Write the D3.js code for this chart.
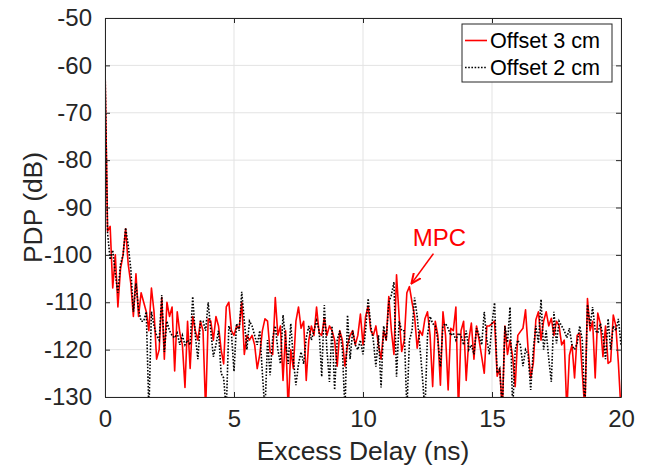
<!DOCTYPE html>
<html>
<head>
<meta charset="utf-8">
<script src="https://cdn.jsdelivr.net/npm/d3@7"></script>
<style>
  html, body { margin: 0; padding: 0; background: #fff; }
  svg { display: block; font-family: "Liberation Sans", Arial, Helvetica, sans-serif; }
</style>
</head>
<body>
<svg id="chart" width="645" height="467"></svg>
<script>
// ---------------- data ----------------
const delayStep = 0.1; // ns between samples
const xTicks = [0, 5, 10, 15, 20];
const yTicks = [-130, -120, -110, -100, -90, -80, -70, -60, -50];
const seriesNames = ["Offset 3 cm", "Offset 2 cm"];

// Offset 3 cm (red, solid), PDP in dB, samples every 0.1 ns from 0 to 20 ns
const pdpOffset3 = [
  -60, -95, -94, -107, -100, -111, -103, -100, -94.5, -102,
  -106, -113, -104, -113, -108, -110, -112, -116, -107, -112,
  -122, -120, -109, -122, -110, -113, -111, -124.5, -112, -116.5,
  -119, -128, -114, -124, -113, -116, -118, -114, -116, -133,
  -113.5, -114, -118, -113, -115, -120, -123, -111, -110, -116,
  -117, -115, -115.5, -110, -121, -117, -118, -117, -119, -124,
  -121, -116, -113.5, -114, -120.5, -121, -109, -117, -115, -126.5,
  -116, -133, -120, -124, -114, -111, -115.5, -114, -126.5, -118,
  -115, -117, -111, -116.5, -117, -113.3, -117, -115, -116, -118,
  -123.5, -116, -118, -123.5, -119, -117, -116, -119, -117, -112.5,
  -119, -113, -110.8, -116, -117, -115, -119, -122, -116, -118,
  -108.8, -116, -121, -104.2, -113, -120.4, -118, -108, -106.7, -110,
  -113, -119.7, -116, -117, -113.5, -112, -117, -127.8, -114, -117,
  -127.5, -112, -117, -128.5, -115.5, -116, -111, -133, -116, -114,
  -126.5, -118, -114.4, -122, -115, -118, -121.5, -125, -115, -115,
  -114.5, -114, -125.6, -124, -133, -115, -121, -118, -121.5, -127.8,
  -117, -116.2, -115.5, -111.6, -120, -126, -122.9, -113.7, -112, -118,
  -114, -112, -115, -113.4, -117, -114, -115, -119, -118, -133,
  -121.2, -119, -126, -117, -116.5, -125, -133, -109.2, -116, -114,
  -126, -112.3, -114.5, -121.5, -115, -122.9, -122.5, -112.7, -115, -123,
  -133
];

// Offset 2 cm (black, dotted)
const pdpOffset2 = [
  -60, -95.5, -101, -99, -104, -108, -102, -100, -94.3, -98,
  -103, -112, -106, -111.5, -114, -114, -112, -133, -112, -115,
  -117, -118, -108.5, -120.5, -114, -116, -117, -117.5, -116.5, -119,
  -117, -119, -118, -119, -108.8, -117, -122, -114, -114, -116,
  -110, -116, -121.5, -119, -116, -125, -126, -133, -115, -116.5,
  -124.6, -114.5, -116, -107.8, -114, -120, -114, -115, -117, -119,
  -116, -125, -133, -118, -125.4, -117.5, -115, -120, -123, -112.7,
  -118, -123, -114.5, -122, -127.5, -123, -120.5, -123, -117.5, -115,
  -118, -116, -113.9, -116, -125.7, -110.6, -120, -126.8, -115, -128.5,
  -118, -116, -120, -133, -112.7, -122, -116, -119, -120, -118,
  -121, -116, -109.2, -115, -118, -123.6, -117, -128, -115, -118,
  -110, -108.5, -105.7, -125.7, -114, -116, -116, -133, -118, -116,
  -109, -113, -119, -125.5, -133, -117, -113, -114.5, -115, -118,
  -123.6, -115, -114.5, -115.5, -117, -116.5, -118, -116.5, -117, -119,
  -116, -120, -119, -121, -115.5, -117, -119, -112, -118, -121,
  -114.5, -110.1, -125, -124, -133, -115, -118.5, -111, -133, -120,
  -118, -119, -123.5, -120, -121, -128.5, -120, -115, -118.7, -109.4,
  -120, -116, -122, -126.8, -112, -118.7, -114, -115, -116, -117.5,
  -115.5, -119, -120, -118.7, -115, -118, -133, -110.5, -115, -111,
  -116, -116.5, -114.5, -117, -122, -113.5, -120, -115, -116, -113.5,
  -119
];

const annotationText = "MPC";
const annotationPoint = { delay: 11.8, pdp: -106.7 };

// ---------------- layout ----------------
const svg = d3.select("#chart");
const L = 105, R = 621, T = 18, B = 397;
const axisColor = "#262626";
const gridColor = "#e3e3e3";

const x = d3.scaleLinear().domain([0, 20]).range([L, R]);
const y = d3.scaleLinear().domain([-130, -50]).range([B, T]);

// clip
svg.append("defs").append("clipPath").attr("id", "plotclip")
  .append("rect").attr("x", L).attr("y", T).attr("width", R - L).attr("height", B - T);

// background
svg.append("rect").attr("x", L).attr("y", T).attr("width", R - L).attr("height", B - T).attr("fill", "#fff");

// grid
const grid = svg.append("g");
grid.selectAll("line.gx").data(xTicks).join("line")
  .attr("x1", d => x(d)).attr("x2", d => x(d)).attr("y1", T).attr("y2", B)
  .attr("stroke", gridColor).attr("stroke-width", 1);
grid.selectAll("line.gy").data(yTicks).join("line")
  .attr("y1", d => y(d)).attr("y2", d => y(d)).attr("x1", L).attr("x2", R)
  .attr("stroke", gridColor).attr("stroke-width", 1);

// lines
const toPts = arr => arr.map((v, i) => [i * delayStep, v]);
const line = d3.line().x(d => x(d[0])).y(d => y(d[1]));
const plot = svg.append("g").attr("clip-path", "url(#plotclip)");
plot.append("path").datum(toPts(pdpOffset3)).attr("d", line)
  .attr("fill", "none").attr("stroke", "#ff0000").attr("stroke-width", 1.6)
  .attr("stroke-linejoin", "round");
plot.append("path").datum(toPts(pdpOffset2)).attr("d", line)
  .attr("fill", "none").attr("stroke", "#000").attr("stroke-width", 1.6)
  .attr("stroke-dasharray", "1.6,1.6");

// axes (box with inward ticks on all sides)
const tickLen = 5;
const fmt = d => String(d).replace("-", "-");
const axB = svg.append("g").attr("transform", `translate(0,${B})`)
  .call(d3.axisBottom(x).tickValues(xTicks).tickSizeInner(-tickLen).tickSizeOuter(0).tickPadding(13));
const axT = svg.append("g").attr("transform", `translate(0,${T})`)
  .call(d3.axisTop(x).tickValues(xTicks).tickSizeInner(-tickLen).tickSizeOuter(0).tickFormat(""));
const axL = svg.append("g").attr("transform", `translate(${L},0)`)
  .call(d3.axisLeft(y).tickValues(yTicks).tickSizeInner(-tickLen).tickSizeOuter(0).tickPadding(13).tickFormat(fmt));
const axR = svg.append("g").attr("transform", `translate(${R},0)`)
  .call(d3.axisRight(y).tickValues(yTicks).tickSizeInner(-tickLen).tickSizeOuter(0).tickFormat(""));
[axB, axT, axL, axR].forEach(g => {
  g.select(".domain").attr("stroke", axisColor).attr("stroke-width", 1);
  g.selectAll(".tick line").attr("stroke", axisColor).attr("stroke-width", 1);
  g.selectAll(".tick text").attr("fill", axisColor).attr("font-size", 24)
    .attr("font-family", '"Liberation Sans", Arial, Helvetica, sans-serif');
});

// axis labels
svg.append("text").attr("x", (L + R) / 2).attr("y", 460).attr("text-anchor", "middle")
  .attr("font-size", 26.4).attr("fill", axisColor).text("Excess Delay (ns)");
svg.append("text").attr("transform", `translate(42,${(T + B) / 2}) rotate(-90)`)
  .attr("text-anchor", "middle").attr("font-size", 26.4).attr("fill", axisColor).text("PDP (dB)");

// annotation
const ax0 = x(annotationPoint.delay), ay0 = y(annotationPoint.pdp);
svg.append("defs").append("marker").attr("id", "arrowhead")
  .attr("viewBox", "0 0 10 10").attr("refX", 9).attr("refY", 5)
  .attr("markerWidth", 7).attr("markerHeight", 7).attr("orient", "auto")
  .append("path").attr("d", "M0,1 L9,5 L0,9").attr("fill", "none")
  .attr("stroke", "#ff0000").attr("stroke-width", 1.8);
svg.append("line").attr("x1", ax0 + 24).attr("y1", ay0 - 33).attr("x2", ax0 + 2).attr("y2", ay0 - 3)
  .attr("stroke", "#ff0000").attr("stroke-width", 1.6).attr("marker-end", "url(#arrowhead)");
svg.append("text").attr("x", ax0 + 30).attr("y", ay0 - 41).attr("text-anchor", "middle")
  .attr("font-size", 24).attr("fill", "#ff0000").text(annotationText);

// legend
const lg = svg.append("g");
lg.append("rect").attr("x", 462).attr("y", 24).attr("width", 150).attr("height", 58)
  .attr("fill", "#fff").attr("stroke", axisColor).attr("stroke-width", 1);
const legStyles = [
  { color: "#ff0000", dash: null },
  { color: "#000", dash: "1.6,1.6" }
];
seriesNames.forEach((name, i) => {
  const yy = 40.5 + i * 27;
  lg.append("line").attr("x1", 465).attr("x2", 487).attr("y1", yy).attr("y2", yy)
    .attr("stroke", legStyles[i].color).attr("stroke-width", 1.6)
    .attr("stroke-dasharray", legStyles[i].dash);
  lg.append("text").attr("x", 490).attr("y", yy).attr("dy", "0.36em")
    .attr("font-size", 21.6).attr("fill", "#000").text(name);
});
</script>
</body>
</html>
